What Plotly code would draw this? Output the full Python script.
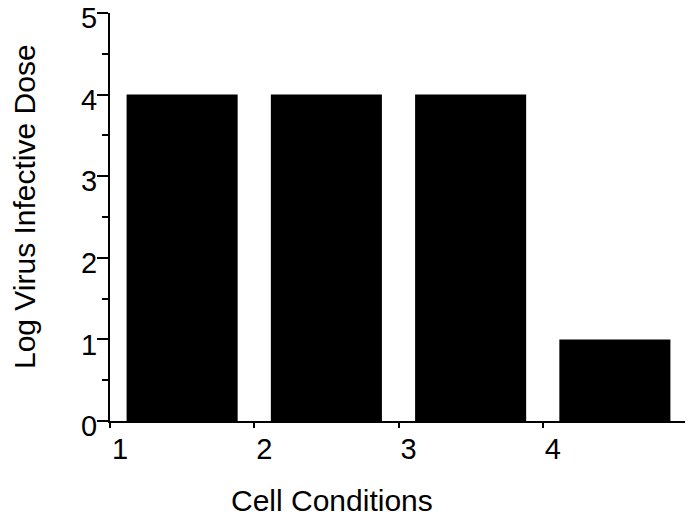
import plotly.graph_objects as go

# Data
conditions = [1, 2, 3, 4]
log_dose = [4, 4, 4, 1]
x_tick_vals = [1, 2, 3, 4, 5]
x_tick_text = ["1", "2", "3", "4", ""]
y_tick_vals = [0, 1, 2, 3, 4, 5]
y_tick_text = ["0", "1", "2", "3", "4", "5"]
x_title = "Cell Conditions"
y_title = "Log Virus Infective Dose"

FONT = "Liberation Sans, Arial, Helvetica, sans-serif"
FS = 30
TFS = 29

fig = go.Figure()
fig.add_trace(go.Bar(
    x=conditions,
    y=log_dose,
    width=0.77,
    offset=0.115,
    marker=dict(color="black", line=dict(width=0)),
    showlegend=False,
))

# the page body adds an 8px margin, so the figure is 8px smaller and shifted
fig.update_layout(
    width=685,
    height=513,
    margin=dict(l=102, r=6, t=5, b=100),
    paper_bgcolor="white",
    plot_bgcolor="white",
    font=dict(family=FONT, size=FS, color="black"),
    xaxis=dict(
        range=[1, 5],
        tickmode="array",
        tickvals=x_tick_vals,
        ticktext=x_tick_text,
        ticks="outside",
        ticklen=5,
        tickwidth=2,
        tickcolor="black",
        showline=True,
        linewidth=2,
        linecolor="black",
        showgrid=False,
        zeroline=False,
        automargin=False,
        ticklabeloverflow="allow",
        ticklabelshift=10,
        ticklabelstandoff=-4,
        tickfont=dict(family=FONT, size=TFS, color="black"),
    ),
    yaxis=dict(
        range=[0, 5],
        tickmode="array",
        tickvals=y_tick_vals,
        ticktext=y_tick_text,
        ticks="outside",
        ticklen=11,
        tickwidth=2,
        tickcolor="black",
        minor=dict(dtick=0.5, ticks="outside", ticklen=6, tickwidth=2, tickcolor="black"),
        showline=True,
        linewidth=2,
        linecolor="black",
        showgrid=False,
        zeroline=False,
        automargin=False,
        ticklabeloverflow="allow",
        ticklabelshift=5,
        ticklabelstandoff=-6,
        tickfont=dict(family=FONT, size=TFS, color="black"),
    ),
    annotations=[
        dict(text=x_title, xref="paper", yref="paper", x=0.385, y=-0.196,
             xanchor="center", yanchor="middle", showarrow=False,
             font=dict(family=FONT, size=FS, color="black")),
        dict(text=y_title, xref="paper", yref="paper", x=-0.149, y=0.5245,
             xanchor="center", yanchor="middle", textangle=-90, showarrow=False,
             font=dict(family=FONT, size=FS, color="black")),
    ],
)

fig.write_html("out.html")
